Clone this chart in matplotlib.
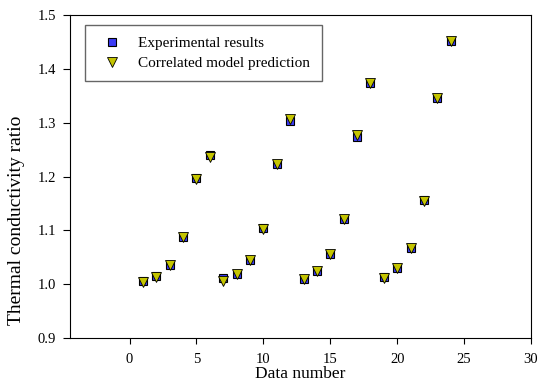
import numpy as np
import matplotlib
matplotlib.use("Agg")
import matplotlib.pyplot as plt

# Data
data_number = np.arange(1, 25)
experimental = [1.006, 1.015, 1.035, 1.088, 1.197, 1.241,
                1.012, 1.020, 1.046, 1.104, 1.223, 1.303,
                1.010, 1.025, 1.057, 1.121, 1.274, 1.373,
                1.013, 1.030, 1.068, 1.156, 1.346, 1.452]
predicted = [1.004, 1.013, 1.035, 1.087, 1.196, 1.237,
             1.007, 1.019, 1.046, 1.103, 1.223, 1.307,
             1.010, 1.025, 1.057, 1.121, 1.278, 1.374,
             1.012, 1.030, 1.068, 1.155, 1.346, 1.452]

plt.rcParams["font.family"] = ["Liberation Serif", "DejaVu Serif"]

fig = plt.figure(figsize=(5.39, 3.86), dpi=100)
ax = fig.add_axes([0.130, 0.124, 0.855, 0.837])

ax.plot(data_number, experimental, linestyle="none", marker="s", markersize=5.5,
        markerfacecolor="#3c3cf5", markeredgecolor="black", markeredgewidth=0.8,
        label="Experimental results")
ax.plot(data_number, predicted, linestyle="none", marker="v", markersize=6.5,
        markerfacecolor="#c4c400", markeredgecolor="black", markeredgewidth=0.6,
        label="Correlated model prediction")

ax.set_xlim(-4.45, 30)
ax.set_ylim(0.9, 1.5)
ax.set_xticks([0, 5, 10, 15, 20, 25, 30])
ax.set_yticks([0.9, 1.0, 1.1, 1.2, 1.3, 1.4, 1.5])
ax.yaxis.set_major_formatter(matplotlib.ticker.FormatStrFormatter("%.1f"))
ax.tick_params(direction="out", width=0.8, labelsize=10.5)
ax.tick_params(axis="x", length=4, pad=7)
ax.tick_params(axis="y", length=5, pad=5)
for s in ax.spines.values():
    s.set_linewidth(0.8)

ax.set_xlabel("Data number", fontsize=12.5, labelpad=0)
ax.set_ylabel("Thermal conductivity ratio", fontsize=14)
ax.yaxis.set_label_coords(-0.098, 0.365)

leg = ax.legend(loc="upper left", bbox_to_anchor=(0.0325, 0.969), borderaxespad=0,
                fontsize=11, fancybox=False, framealpha=1, edgecolor="#666666",
                handlelength=2, handletextpad=0.72, borderpad=0.75, labelspacing=0.4)
leg.get_frame().set_linewidth(1.0)

fig.savefig("out.png", dpi=100)
